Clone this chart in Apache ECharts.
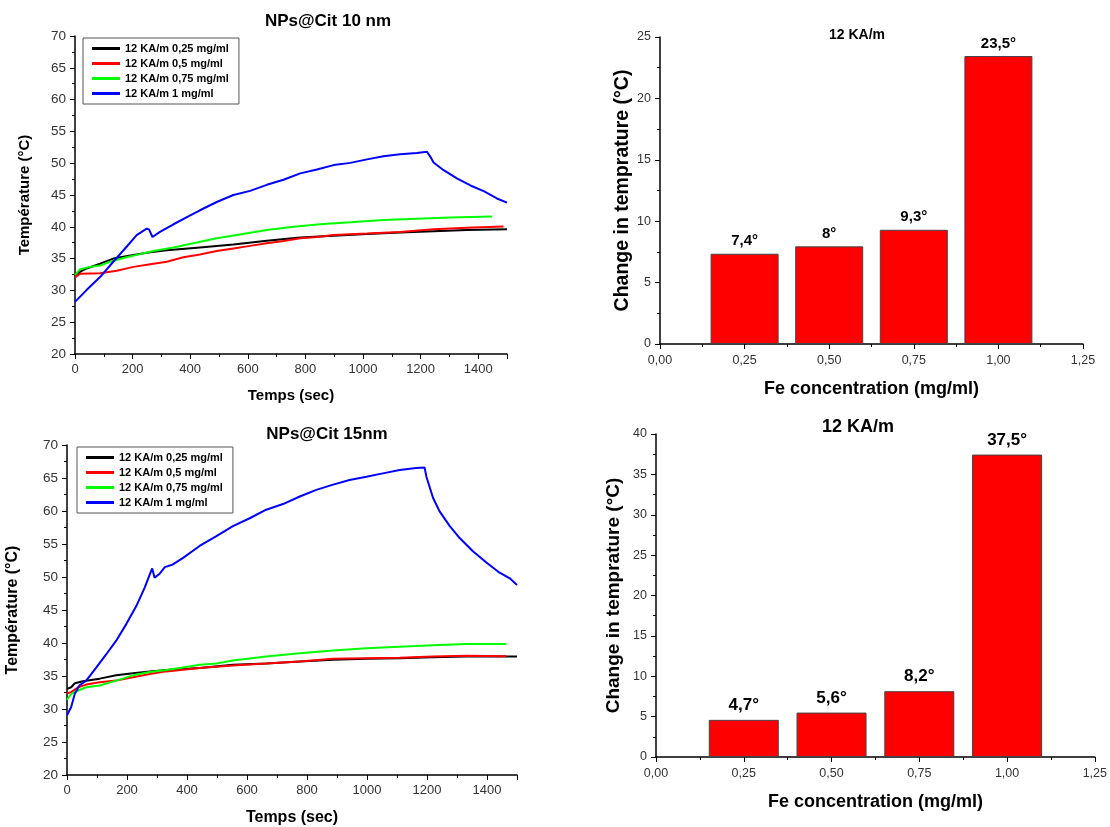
<!DOCTYPE html>
<html>
<head>
<meta charset="utf-8">
<script src="https://cdn.jsdelivr.net/npm/echarts@6/dist/echarts.min.js"></script>
<style>html,body{margin:0;padding:0;background:#fff;}#c{width:1110px;height:827px;}</style>
</head>
<body>
<div id="c"></div>
<script>
// ---- Data: NPs@Cit 10 nm (time s, temperature °C)
const cit10_025 = [[0,32.25],[17,32.9],[40,33.45],[87,34.2],[133,35.0],[203,35.55],[261,36.0],[319,36.3],[434,36.75],[550,37.2],[666,37.8],[782,38.3],[898,38.6],[1014,38.85],[1129,39.1],[1245,39.3],[1361,39.5],[1500,39.6]];
const cit10_05 = [[0,32.05],[17,32.6],[87,32.7],[145,33.1],[203,33.7],[261,34.1],[319,34.5],[376,35.2],[434,35.65],[492,36.2],[550,36.6],[608,37.0],[666,37.4],[724,37.75],[782,38.2],[840,38.4],[898,38.7],[1014,38.95],[1129,39.2],[1245,39.6],[1361,39.85],[1488,40.05]];
const cit10_075 = [[0,32.4],[17,33.3],[52,33.7],[87,33.9],[122,34.5],[168,35.1],[226,35.7],[272,36.2],[342,36.75],[411,37.4],[492,38.2],[573,38.8],[666,39.5],[759,40.0],[851,40.4],[956,40.7],[1071,41.05],[1187,41.25],[1303,41.45],[1448,41.6]];
const cit10_1 = [[0,28.2],[40,30.05],[87,32.1],[133,34.5],[180,36.9],[214,38.7],[249,39.7],[257,39.6],[269,38.4],[295,39.2],[342,40.4],[400,41.8],[434,42.6],[492,43.9],[550,45.0],[608,45.65],[666,46.6],[724,47.4],[782,48.4],[840,49.0],[898,49.7],[956,50.05],[1014,50.6],[1071,51.1],[1129,51.4],[1187,51.6],[1222,51.8],[1234,51.0],[1245,50.1],[1280,48.9],[1326,47.6],[1373,46.5],[1419,45.6],[1465,44.45],[1500,43.8]];

// ---- Data: NPs@Cit 15nm
const cit15_025 = [[0,33.05],[14,33.3],[26,33.9],[53,34.2],[109,34.6],[164,35.1],[220,35.4],[276,35.7],[331,35.9],[442,36.2],[553,36.7],[664,36.9],[776,37.2],[887,37.45],[998,37.6],[1109,37.7],[1220,37.85],[1331,37.95],[1500,37.95]];
const cit15_05 = [[0,32.4],[14,32.55],[37,33.3],[64,33.7],[109,34.05],[164,34.3],[220,34.8],[276,35.3],[331,35.7],[442,36.2],[553,36.6],[664,36.9],[776,37.2],[887,37.6],[998,37.7],[1109,37.75],[1220,37.95],[1331,38.05],[1464,38.0]];
const cit15_075 = [[0,31.4],[14,32.3],[37,32.8],[64,33.3],[109,33.55],[164,34.3],[220,35.1],[276,35.6],[331,35.9],[387,36.3],[442,36.7],[498,36.9],[553,37.35],[664,37.95],[776,38.45],[887,38.85],[998,39.2],[1109,39.45],[1220,39.65],[1331,39.85],[1464,39.85]];
const cit15_1 = [[0,29.05],[14,30.3],[26,32.3],[42,33.6],[64,34.3],[98,36.3],[131,38.3],[164,40.35],[198,42.9],[231,45.6],[259,48.4],[276,50.4],[284,51.3],[292,49.9],[309,50.5],[326,51.5],[353,51.9],[387,52.9],[442,54.7],[498,56.2],[553,57.7],[609,58.9],[664,60.2],[720,61.05],[776,62.2],[831,63.2],[887,64.0],[942,64.7],[998,65.2],[1053,65.7],[1109,66.2],[1164,66.5],[1192,66.6],[1198,65.2],[1220,62.0],[1242,59.95],[1276,57.7],[1309,55.9],[1353,53.9],[1398,52.2],[1442,50.65],[1476,49.8],[1500,48.8]];

const seriesNames = ['12 KA/m 0,25 mg/ml','12 KA/m 0,5 mg/ml','12 KA/m 0,75 mg/ml','12 KA/m 1 mg/ml'];
const seriesColors = ['#000000','#ff0000','#00ff00','#0000ff'];

// ---- Bar data
const concentrations = [0.25, 0.5, 0.75, 1.0];
const dT10 = [7.35, 7.95, 9.3, 23.45];
const dT10Labels = ['7,4°','8°','9,3°','23,5°'];
const dT15 = [4.6, 5.5, 8.15, 37.45];
const dT15Labels = ['4,7°','5,6°','8,2°','37,5°'];

const FONT = '"Liberation Sans", Arial, sans-serif';
const chart = echarts.init(document.getElementById('c'), null, {renderer:'canvas'});

const plain = v => String(v);
const comma2 = v => v.toFixed(2).replace('.', ',');

function axisCommon(extra, labelExtra) {
  return Object.assign({
    axisLine: {show:true, onZero:false, lineStyle:{color:'#000', width:1.5}},
    axisTick: {show:true, inside:false, length:5, lineStyle:{color:'#000', width:1}},
    minorTick: {show:true, splitNumber:2, length:3, lineStyle:{color:'#000', width:1}},
    splitLine: {show:false},
    axisLabel: Object.assign({color:'#333', fontSize:13.5, fontFamily:FONT, margin:9, formatter:plain}, labelExtra || {}),
    nameLocation:'middle'
  }, extra);
}
function nameStyle(fs) { return {color:'#000', fontWeight:'bold', fontSize:fs, fontFamily:FONT}; }

function lineSeries(dataSets, axisIdx) {
  return dataSets.map((d, i) => ({
    type:'line', name:seriesNames[i], xAxisIndex:axisIdx, yAxisIndex:axisIdx,
    data:d, showSymbol:false, symbol:'none', smooth:false,
    lineStyle:{color:seriesColors[i], width:2}, itemStyle:{color:seriesColors[i]},
    animation:false
  }));
}
function barSeries(vals, labels, axisIdx, bw, fs, dist) {
  return {
    type:'bar', xAxisIndex:axisIdx, yAxisIndex:axisIdx,
    data: concentrations.map((c, i) => [c, vals[i]]),
    barWidth: bw,
    itemStyle:{color:'#ff0000', borderColor:'#444', borderWidth:1},
    label:{show:true, position:'top', distance:dist, color:'#000', fontWeight:'bold', fontSize:fs, fontFamily:FONT,
      formatter: p => labels[p.dataIndex]},
    animation:false
  };
}

const legendCommon = {
  orient:'vertical', data:seriesNames, icon:'rect', itemWidth:28, itemHeight:3, itemGap:2,
  borderColor:'#555', borderWidth:1, backgroundColor:'#fff',
  textStyle:{fontSize:11, fontWeight:'bold', color:'#000', fontFamily:FONT, lineHeight:13},
  selectedMode:false
};

chart.setOption({
  animation:false,
  textStyle:{fontFamily:FONT},
  title:[
    {text:'NPs@Cit 10 nm', left:328, top:13, textAlign:'center', padding:0, textStyle:{fontSize:17, fontWeight:'bold', color:'#000', fontFamily:FONT}},
    {text:'NPs@Cit 15nm', left:327, top:426, textAlign:'center', padding:0, textStyle:{fontSize:17, fontWeight:'bold', color:'#000', fontFamily:FONT}},
    {text:'12 KA/m', left:857, top:28, textAlign:'center', padding:0, textStyle:{fontSize:14, fontWeight:'bold', color:'#000', fontFamily:FONT}},
    {text:'12 KA/m', left:858, top:418, textAlign:'center', padding:0, textStyle:{fontSize:18, fontWeight:'bold', color:'#000', fontFamily:FONT}}
  ],
  legend:[
    Object.assign({left:83, top:38, padding:[4,10,4,9]}, legendCommon),
    Object.assign({left:77, top:447, padding:[4,10,4,9], itemGap:3}, legendCommon)
  ],
  grid:[
    {left:75, top:36, width:432, height:318},
    {left:660, top:37, width:423, height:307},
    {left:67, top:445, width:450, height:332},
    {left:656, top:434, width:439, height:323}
  ],
  xAxis:[
    axisCommon({type:'value', gridIndex:0, min:0, max:1500, interval:200, name:'Temps (sec)', nameGap:34, nameTextStyle:nameStyle(15)},
      {showMaxLabel:false, fontSize:13}),
    axisCommon({type:'value', gridIndex:1, min:0, max:1.25, interval:0.25, name:'Fe concentration (mg/ml)', nameGap:36, nameTextStyle:nameStyle(18)},
      {formatter:comma2, fontSize:12.5, margin:10}),
    axisCommon({type:'value', gridIndex:2, min:0, max:1500, interval:200, name:'Temps (sec)', nameGap:35, nameTextStyle:nameStyle(16)},
      {showMaxLabel:false, fontSize:13}),
    axisCommon({type:'value', gridIndex:3, min:0, max:1.25, interval:0.25, name:'Fe concentration (mg/ml)', nameGap:36, nameTextStyle:nameStyle(18)},
      {formatter:comma2, fontSize:12.5, margin:10})
  ],
  yAxis:[
    axisCommon({type:'value', gridIndex:0, min:20, max:70, interval:5, name:'Température (°C)', nameGap:43, nameTextStyle:nameStyle(15)}),
    axisCommon({type:'value', gridIndex:1, min:0, max:25, interval:5, name:'Change in temprature (°C)', nameGap:27, nameTextStyle:nameStyle(19.5)},
      {fontSize:12.5}),
    axisCommon({type:'value', gridIndex:2, min:20, max:70, interval:5, name:'Température (°C)', nameGap:46, nameTextStyle:nameStyle(16)}),
    axisCommon({type:'value', gridIndex:3, min:0, max:40, interval:5, name:'Change in temprature (°C)', nameGap:33, nameTextStyle:nameStyle(19)},
      {fontSize:12.5})
  ],
  series:[].concat(
    lineSeries([cit10_025, cit10_05, cit10_075, cit10_1], 0),
    [barSeries(dT10, dT10Labels, 1, 68, 15, 5)],
    lineSeries([cit15_025, cit15_05, cit15_075, cit15_1], 2),
    [barSeries(dT15, dT15Labels, 3, 70, 17, 6)]
  )
});
</script>
</body>
</html>
